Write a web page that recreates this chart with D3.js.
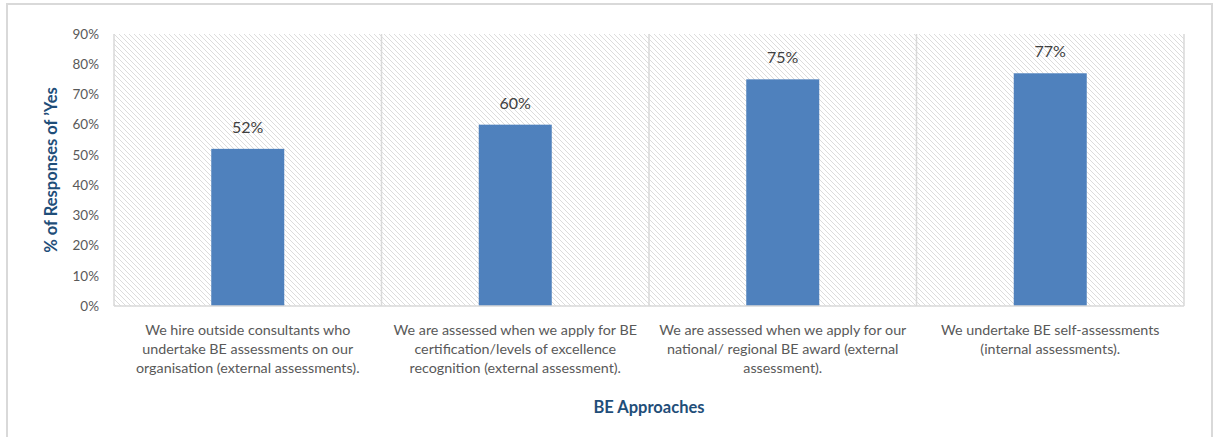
<!DOCTYPE html>
<html>
<head>
<meta charset="utf-8">
<script src="https://cdn.jsdelivr.net/npm/d3@7"></script>
<style>
  html, body { margin: 0; padding: 0; background: #fff; }
  svg { display: block; }
  text { font-family: Lato, "Open Sans", sans-serif; }
</style>
</head>
<body>
<svg id="chart" width="1215" height="437"></svg>
<script>
// BE approach categories, each split into the lines shown under the axis
const categories = [
  ["We hire outside consultants who", "undertake BE assessments on our", "organisation (external assessments)."],
  ["We are assessed when we apply for BE", "certification/levels of excellence", "recognition (external assessment)."],
  ["We are assessed when we apply for our", "national/ regional BE award (external", "assessment)."],
  ["We undertake BE self-assessments", "(internal assessments)."]
];
const yesShare = [52, 60, 75, 77];
const yTicks = [0, 10, 20, 30, 40, 50, 60, 70, 80, 90];
const yTitle = "% of Responses of \u2019Yes";
const xTitle = "BE Approaches";

const plot = { left: 114, right: 1184, top: 34, bottom: 306 };
const svg = d3.select("#chart");

// outer chart frame
svg.append("rect")
  .attr("x", 7).attr("y", 4).attr("width", 1205).attr("height", 440)
  .attr("fill", "#fff").attr("stroke", "#d9d9d9").attr("stroke-width", 2);

// diagonal hatch used as the plot background
const defs = svg.append("defs");
const pat = defs.append("pattern")
  .attr("id", "hatch").attr("patternUnits", "userSpaceOnUse")
  .attr("width", 5).attr("height", 5);
pat.append("rect").attr("width", 5).attr("height", 5).attr("fill", "#fff");
pat.append("path").attr("d", "M-1,-1 L6,6 M-1,4 L1,6 M4,-1 L6,1")
  .attr("stroke", "#dcdcdc").attr("stroke-width", 1);

const idx = d3.range(categories.length);
const x = d3.scaleBand().domain(idx).range([plot.left, plot.right]).paddingInner(0).paddingOuter(0);
const y = d3.scaleLinear().domain([0, 90]).range([plot.bottom, plot.top]);

svg.append("rect")
  .attr("x", plot.left).attr("y", plot.top)
  .attr("width", plot.right - plot.left).attr("height", plot.bottom - plot.top)
  .attr("fill", "url(#hatch)");

// vertical separators between categories
const seps = idx.map(i => x(i)).concat([plot.right]);
svg.append("g").selectAll("line").data(seps).join("line")
  .attr("x1", d => d).attr("x2", d => d)
  .attr("y1", plot.top).attr("y2", plot.bottom)
  .attr("stroke", "#d9d9d9").attr("stroke-width", 1.5);

// bars
const barW = 73;
svg.append("g").selectAll("rect").data(yesShare).join("rect")
  .attr("x", (d, i) => x(i) + x.bandwidth() / 2 - barW / 2)
  .attr("y", d => y(d))
  .attr("width", barW)
  .attr("height", d => y(0) - y(d))
  .attr("fill", "#4f81bd");

// value labels
svg.append("g").selectAll("text").data(yesShare).join("text")
  .attr("x", (d, i) => x(i) + x.bandwidth() / 2)
  .attr("y", d => y(d) - 16)
  .attr("text-anchor", "middle")
  .attr("font-size", 16).attr("fill", "#404040")
  .text(d => d + "%");

// baseline
svg.append("line")
  .attr("x1", plot.left).attr("x2", plot.right)
  .attr("y1", plot.bottom).attr("y2", plot.bottom)
  .attr("stroke", "#d9d9d9").attr("stroke-width", 1.5);

// y axis
const yAxis = d3.axisLeft(y).tickValues(yTicks).tickFormat(d => d + "%").tickSize(0).tickPadding(15);
const gy = svg.append("g").attr("transform", `translate(${plot.left},0)`).call(yAxis);
gy.select(".domain").remove();
gy.selectAll("text").attr("font-size", 13.5).attr("fill", "#595959")
  .style("font-family", "Lato, 'Open Sans', sans-serif");

// category labels
const lab = svg.append("g").selectAll("text").data(categories).join("text")
  .attr("text-anchor", "middle")
  .attr("font-size", 14.3).attr("fill", "#595959")
  .attr("transform", (d, i) => `translate(${x(i) + x.bandwidth() / 2},${plot.bottom + 29})`);
lab.selectAll("tspan").data(d => d).join("tspan")
  .attr("x", 0).attr("dy", (d, j) => j === 0 ? 0 : 19)
  .text(d => d);

// axis titles
svg.append("text")
  .attr("transform", `translate(57,${(plot.top + plot.bottom) / 2}) rotate(-90)`)
  .attr("text-anchor", "middle")
  .attr("font-size", 16.5).attr("font-weight", "bold").attr("fill", "#1f4e79")
  .text(yTitle);

svg.append("text")
  .attr("x", (plot.left + plot.right) / 2).attr("y", 413)
  .attr("text-anchor", "middle")
  .attr("font-size", 16.5).attr("font-weight", "bold").attr("fill", "#1f4e79")
  .text(xTitle);
</script>
</body>
</html>
